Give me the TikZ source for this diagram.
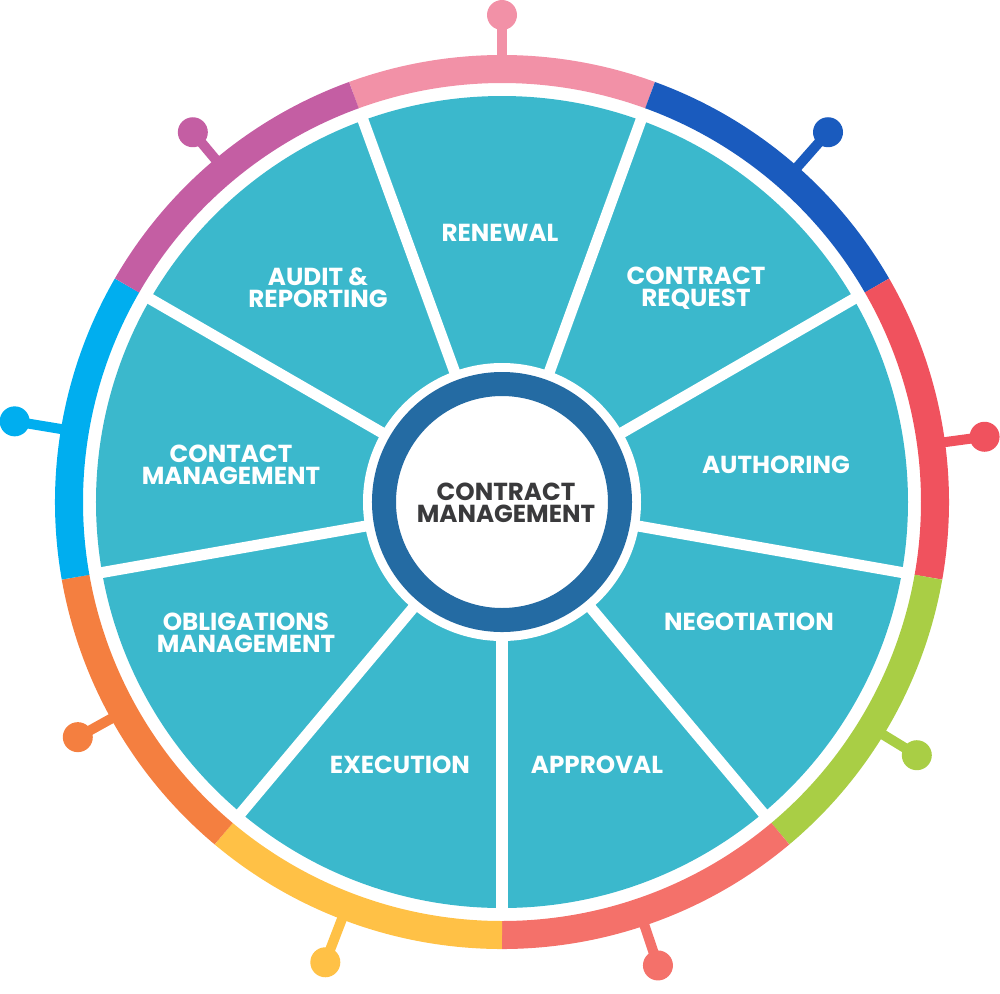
\documentclass[tikz,border=0pt]{standalone}
\usepackage{fontspec}
\setmainfont{Poppins}
\usepackage{xcolor}
\usepackage{tikz}
\definecolor{segteal}{RGB}{59,184,204}
\definecolor{hubblue}{RGB}{36,107,163}
\definecolor{hubtext}{RGB}{58,58,60}
\definecolor{rimpink}{RGB}{242,145,167}
\definecolor{rimblue}{RGB}{26,91,190}
\definecolor{rimred}{RGB}{240,82,94}
\definecolor{rimgreen}{RGB}{169,206,69}
\definecolor{rimsalmon}{RGB}{244,113,106}
\definecolor{rimyellow}{RGB}{255,193,70}
\definecolor{rimorange}{RGB}{244,127,64}
\definecolor{rimsky}{RGB}{0,174,239}
\definecolor{rimmagenta}{RGB}{196,94,163}

\begin{document}
\begin{tikzpicture}[
  x=0.01cm,y=0.01cm,
  stage/.style={text=white,font=\fontsize{7.0}{6.3}\selectfont\bfseries,
    align=center,inner sep=0pt},
  hub/.style={text=hubtext,font=\fontsize{7.0}{6.3}\selectfont\bfseries,
    align=center,inner sep=0pt},
  gap/.style={draw=white,line width=0.11cm},
  rim/.style={line width=0.28cm},
  pinstem/.style={line width=0.1cm}
]
\useasboundingbox (-502,-491) rectangle (498,502);
% wheel of stages
\fill[segteal] (0,0) circle[radius=406];
\foreach \a in {70,30,-10,-50,-90,-130,-170,-210,-250}
  \draw[gap] (0,0) -- (\a:410);
\fill[white] (0,0) circle[radius=139];
\draw[hubblue,line width=0.24cm] (0,0) circle[radius=118];
% coloured rim with pins
\foreach \a/\p/\r/\c in {70/90/487/rimpink,30/48.6/493/rimblue,-10/7.7/487/rimred,
    -50/-31.4/486/rimgreen,-90/-71.4/489/rimsalmon,-130/-111/493/rimyellow,
    -170/-151/485/rimorange,-210/-189.4/494/rimsky,-250/-230.1/482/rimmagenta} {
  \draw[rim,\c] (\a:433) arc[start angle=\a,end angle=\a+40,radius=433];
  \draw[pinstem,\c] (\p:440) -- (\p:\r);
  \fill[\c] (\p:\r) circle[radius=15];
}
\node[stage] (renewal) at (-2,269) {RENEWAL};
\node[stage] (request) at (194,214) {CONTRACT\\REQUEST};
\node[stage] (authoring) at (274,37) {AUTHORING};
\node[stage] (negotiation) at (247,-120) {NEGOTIATION};
\node[stage] (approval) at (95,-263) {APPROVAL};
\node[stage] (execution) at (-102,-263) {EXECUTION};
\node[stage] (obligations) at (-256,-131) {OBLIGATIONS\\MANAGEMENT};
\node[stage] (contacts) at (-271,37) {CONTACT\\MANAGEMENT};
\node[stage] (audit) at (-184,214) {AUDIT \&\\REPORTING};
\node[hub] (core) at (4,-1) {CONTRACT\\MANAGEMENT};
\end{tikzpicture}
\end{document}
